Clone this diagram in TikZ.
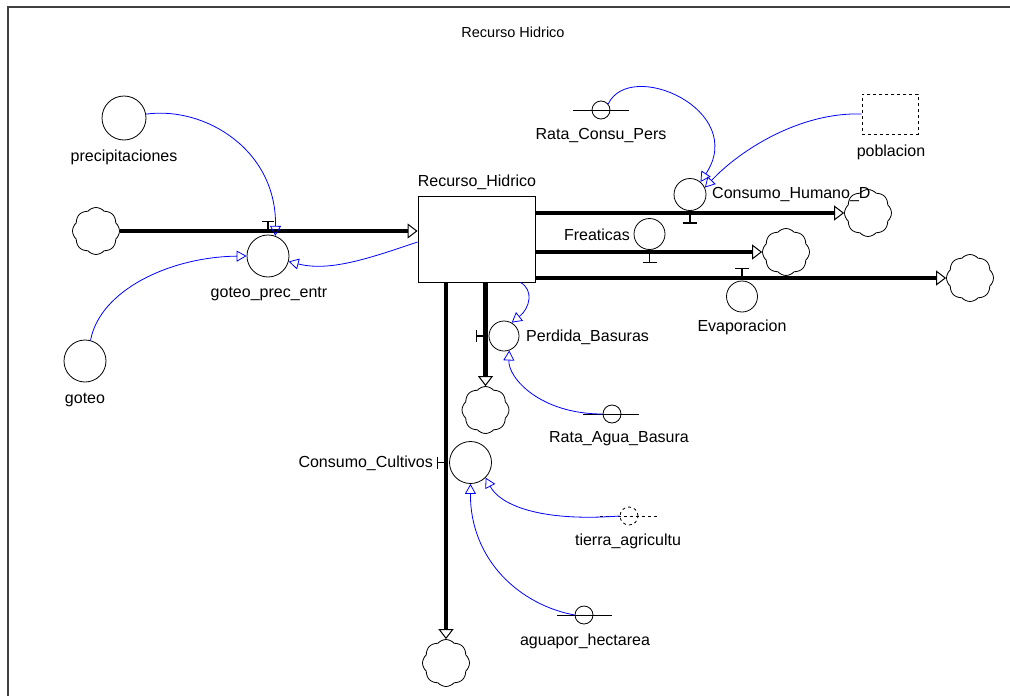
\documentclass[tikz,border=0pt]{standalone}
\usepackage{fontspec}
\setmainfont{Liberation Sans}
\usetikzlibrary{arrows.meta,shapes.symbols,calc}
\begin{document}
\begin{tikzpicture}[x=1pt,y=1pt,
  lbl/.style={inner sep=0pt, font=\fontsize{16}{18}\selectfont},
  ttl/.style={inner sep=0pt, font=\fontsize{14.5}{16}\selectfont},
  circ/.style={draw, circle, inner sep=0pt, line width=0.8pt},
  auxc/.style={draw, circle, inner sep=0pt, minimum size=18pt, line width=0.8pt},
  cloudn/.style={draw, cloud, cloud puffs=8, cloud puff arc=100, aspect=1, minimum width=47pt, minimum height=47pt, inner sep=0pt, line width=0.8pt},
  pipe/.style={line width=4.5pt, -{Triangle[open,length=10pt,width=15pt,line width=1pt]}},
  tbar/.style={line width=1.2pt},
  conn/.style={blue, line width=0.8pt, -{Triangle[open,length=10pt,width=11pt,line width=0.8pt]}},
  auxline/.style={line width=0.8pt}
]
\useasboundingbox (0,0) rectangle (1010,-696);
% frame
\draw[line width=2pt, black!75] (7.5,-696) -- (7.5,-7) -- (1010,-7);
% title
\node[ttl] (title) at (513,-32) {Recurso Hidrico};

% stock
\node[draw, line width=0.9pt, minimum width=117pt, minimum height=86pt, inner sep=0pt] (stock) at (476.5,-239) {};
\node[lbl] (stockl) at (477,-182) {Recurso\_Hidrico};

% clouds
\node[cloudn] (cl0) at (96,-231) {};
\node[cloudn] (cl1) at (868,-213) {};
\node[cloudn] (cl2) at (786,-252) {};
\node[cloudn] (cl3) at (970,-278) {};
\node[cloudn] (cl4) at (485.5,-410) {};
\node[cloudn] (cl5) at (446,-663) {};

% converters
\node[circ, minimum size=44pt] (prec) at (124,-118) {};
\node[lbl] (precl) at (124,-157) {precipitaciones};
\node[circ, minimum size=42pt] (got) at (85,-361) {};
\node[lbl] (gotl) at (85,-400) {goteo};

% valves
\node[circ, minimum size=42pt] (vin) at (268,-256) {};
\node[lbl] (vinl) at (269,-294) {goteo\_prec\_entr};
\node[circ, minimum size=32pt] (vh) at (690,-194.5) {};
\node[lbl, anchor=west] (vhl) at (712,-195) {Consumo\_Humano\_D};
\node[circ, minimum size=31pt] (vf) at (649.5,-234) {};
\node[lbl, anchor=east] (vfl) at (630,-235) {Freaticas};
\node[circ, minimum size=31pt] (ve) at (742,-296.5) {};
\node[lbl] (vel) at (742,-327) {Evaporacion};
\node[circ, minimum size=30pt] (vp) at (504,-336) {};
\node[lbl, anchor=west] (vpl) at (526,-337) {Perdida\_Basuras};
\node[circ, minimum size=42pt] (vc) at (470.5,-462.5) {};
\node[lbl, anchor=east] (vcl) at (433,-463) {Consumo\_Cultivos};

% auxiliaries / constants
\node[auxc] (rcp) at (601,-110) {};
\draw[auxline] (rcp.center) ++(-28,0) -- ++(56,0);
\node[lbl] (rcpl) at (601,-136) {Rata\_Consu\_Pers};
\node[draw, dashed, line width=0.8pt, minimum width=56pt, minimum height=40pt, inner sep=0pt] (pob) at (890,-114) {};
\node[lbl] (pobl) at (891,-152) {poblacion};
\node[auxc] (rab) at (612,-414) {};
\draw[auxline] (rab.center) ++(-29,0) -- ++(56,0);
\node[lbl] (rabl) at (619,-439) {Rata\_Agua\_Basura};
\node[auxc, dashed] (tie) at (629,-516) {};
\draw[auxline, dashed] (tie.center) ++(-29,0) -- ++(57,0);
\node[lbl] (tiel) at (628,-541) {tierra\_agricultu};
\node[auxc] (agu) at (584,-615) {};
\draw[auxline] (agu.center) ++(-27,0) -- ++(55,0);
\node[lbl] (agul) at (585,-641) {aguapor\_hectarea};

% flows
\draw[pipe] (cl0.east) -- (cl0.east -| stock.west);
\draw[pipe] (stock.east |- cl1.west) -- (cl1.west);
\draw[pipe] (stock.east |- cl2.west) -- (cl2.west);
\draw[pipe] (stock.east |- cl3.west) -- (cl3.west);
\draw[pipe] (stock.south -| cl4.north) -- (cl4.north);
\draw[pipe] (stock.south -| cl5.north) -- (cl5.north);

% valve T-bars
\draw[tbar] (vin.north) ++(0,4) -- ++(0,9) ++(-6,0) -- ++(12,0);
\draw[tbar] (vh.south) ++(0,-2) -- ++(0,-10) ++(-7,0) -- ++(14,0);
\draw[tbar] (vf.south) ++(0,-2.5) -- ++(0,-10) ++(-7,0) -- ++(14,0);
\draw[tbar] (ve.north) ++(0,3) -- ++(0,9) ++(-7,0) -- ++(14,0);
\draw[tbar] (vp.west) ++(-4,0) -- ++(-8,0) ++(0,6) -- ++(0,-12);
\draw[tbar] (vc.west) ++(-4,0) -- ++(-8,0) ++(0,6) -- ++(0,-12);

% connectors
\draw[conn] (prec.10) .. controls (205,-106) and (277,-150) .. (vin.70);
\draw[conn] (got.75) .. controls (100,-290) and (170,-257) .. (vin.west);
\draw[conn] ($(stock.west)+(0,-3)$) .. controls (370,-258) and (330,-272) .. (vin.-15);
\draw[conn] (rcp.40) .. controls (630,-58) and (748,-110) .. (vh.50);
\draw[conn] (pob.west) .. controls (800,-112) and (740,-150) .. (vh.25);
\draw[conn] ($(stock.south east)+(-15,0)$) .. controls (534,-290) and (530,-308) .. (vp.60);
\draw[conn] (rab.west) .. controls (540,-414) and (508,-378) .. (vp.-70);
\draw[conn] (tie.west) .. controls (540,-522) and (500,-505) .. (vc.-45);
\draw[conn] (agu.west) .. controls (520,-605) and (470,-560) .. (vc.south);
\end{tikzpicture}
\end{document}
